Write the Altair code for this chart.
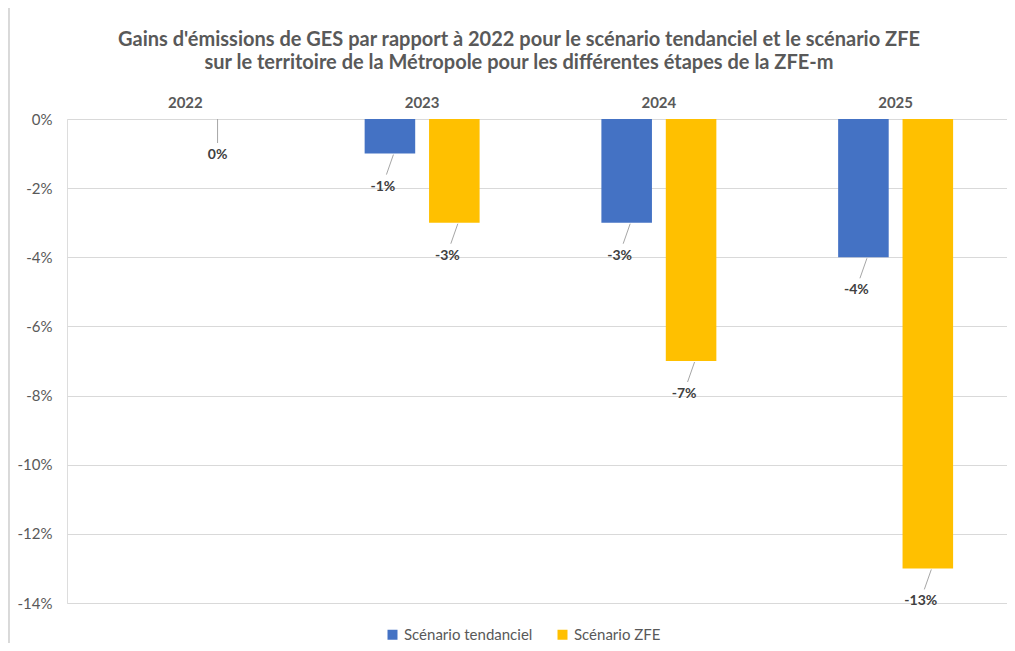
import altair as alt
import pandas as pd

years = ["2022", "2023", "2024", "2025"]
series = ["Scénario tendanciel", "Scénario ZFE"]
tendanciel = [0.0, -0.01, -0.03, -0.04]
zfe = [0.0, -0.03, -0.07, -0.13]
labels_tend = ["", "-1%", "-3%", "-4%"]
labels_zfe = ["0%", "-3%", "-7%", "-13%"]
colors = ["#4472C4", "#FFC000"]
y_ticks = [0, -0.02, -0.04, -0.06, -0.08, -0.10, -0.12, -0.14]
title_lines = ["Gains d'émissions de GES par rapport à 2022 pour le scénario tendanciel et le scénario ZFE",
               "sur le territoire de la Métropole pour les différentes étapes de la ZFE-m"]

rows = []
for i, yr in enumerate(years):
    rows.append(dict(year=yr, serie=series[0], value=tendanciel[i], label=labels_tend[i]))
    rows.append(dict(year=yr, serie=series[1], value=zfe[i], label=labels_zfe[i]))
df = pd.DataFrame(rows)

W, H = 940, 484
FONT = "Lato"

x = alt.X("year:N", sort=years,
          scale=alt.Scale(paddingInner=0.46, paddingOuter=0.23, range=[0, 947]),
          axis=alt.Axis(orient="top", title=None, labelAngle=0, ticks=False, domain=False,
                        labelFontWeight="bold", labelFontSize=15, labelColor="#595959",
                        labelPadding=9, grid=False, labelFont=FONT))
xo = alt.XOffset("serie:N", sort=series,
                 scale=alt.Scale(paddingInner=0.215, paddingOuter=0.1))
y = alt.Y("value:Q", scale=alt.Scale(domain=[-0.14, 0], nice=False, zero=True),
          axis=alt.Axis(format=".0%", values=y_ticks, title=None, ticks=False, domain=False,
                        labelExpr="replace(datum.label, '\u2212', '-')",
                        gridColor="#D9D9D9", gridWidth=1, labelColor="#595959",
                        labelFontSize=15, labelPadding=15, labelFont=FONT))
color = alt.Color("serie:N", sort=series,
                  scale=alt.Scale(domain=series, range=colors),
                  legend=alt.Legend(orient="none", legendX=318, legendY=508, title=None,
                                    symbolType="square", symbolSize=100, symbolStrokeWidth=0,
                                    labelFontSize=15, labelColor="#595959", labelFont=FONT,
                                    columnPadding=22, direction="horizontal"))

base = alt.Chart(df)

bars = base.mark_bar().encode(x=x, xOffset=xo, y=y, color=color)

# slanted leader lines (custom symbol path, unit box -1..1 scaled to 20px)
leaders = base.transform_filter("datum.label != '' && datum.value != 0").mark_point(
    shape="M0.35,-1L-0.35,1", size=400, filled=False, stroke="#A6A6A6",
    strokeWidth=1, opacity=1, xOffset=-3.5, yOffset=11
).encode(x=x, xOffset=xo, y=alt.Y("value:Q"))

leaders0 = base.transform_filter("datum.label != '' && datum.value == 0").mark_rule(
    color="#A6A6A6", strokeWidth=1, yOffset=0, y2Offset=24
).encode(x=x, xOffset=xo, y=alt.Y("value:Q"), y2=alt.Y2("value"))

texts = base.transform_filter("datum.label != '' && datum.value != 0").mark_text(
    dy=33, dx=-7, fontWeight="bold", fontSize=14, color="#404040", font=FONT
).encode(x=x, xOffset=xo, y=alt.Y("value:Q"), text="label:N")

texts0 = base.transform_filter("datum.label != '' && datum.value == 0").mark_text(
    dy=36, dx=0, fontWeight="bold", fontSize=14, color="#404040", font=FONT
).encode(x=x, xOffset=xo, y=alt.Y("value:Q"), text="label:N")

border = alt.Chart(df).mark_rule(color="#D9D9D9", strokeWidth=1).encode(
    x=alt.value(-58), y=alt.value(-111), y2=alt.value(H + 40)
)

title_layers = []
for i, line in enumerate(title_lines):
    title_layers.append(
        alt.Chart(df).mark_text(
            text=line, font=FONT, fontSize=20, fontWeight="bold", color="#595959",
            align="center", baseline="middle"
        ).encode(x=alt.value(452), y=alt.value(-79 + 23 * i))
        .transform_filter("datum.year == '2022' && datum.serie == 'Scénario ZFE'")
    )

chart = alt.layer(bars, leaders, leaders0, texts, texts0, border, *title_layers).properties(
    width=W, height=H,
    autosize=alt.AutoSizeParams(type="none"),
    padding={"left": 59, "top": 111, "right": 0, "bottom": 40},
).configure_view(stroke=None).configure(background="white")

chart.save("out.html", embed_options={"renderer": "svg", "actions": False})
